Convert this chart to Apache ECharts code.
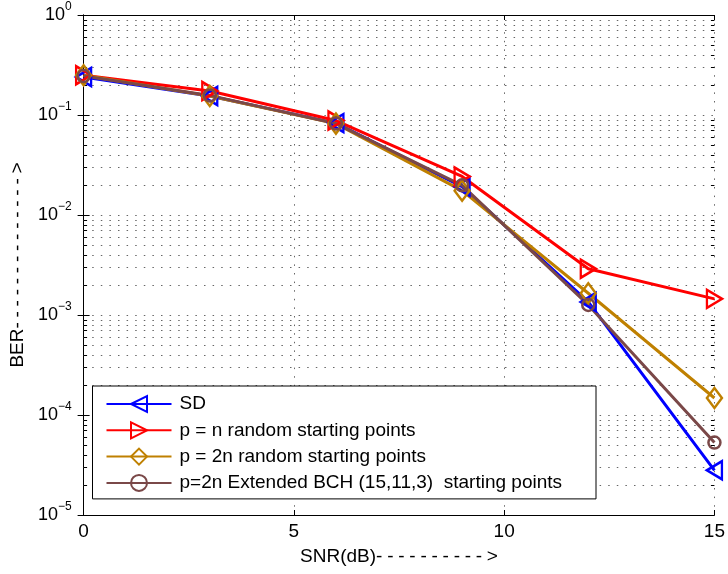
<!DOCTYPE html>
<html>
<head>
<meta charset="utf-8">
<script src="https://cdn.jsdelivr.net/npm/echarts@6/dist/echarts.min.js"></script>
<style>
  html, body { margin: 0; padding: 0; background: #fff; }
  #chart { width: 728px; height: 574px; }
</style>
</head>
<body>
<div id="chart"></div>
<script>
// SNR points (dB)
const snr = [0, 3, 6, 9, 12, 15];

// BER curves
const berSD        = [0.24, 0.155, 0.083, 0.0192, 0.00135, 0.000028];
const berRandN     = [0.25, 0.174, 0.088, 0.0243, 0.0029, 0.00145];
const berRand2N    = [0.25, 0.155, 0.082, 0.0175, 0.00165, 0.000148];
const berBCH       = [0.245, 0.157, 0.082, 0.0198, 0.00126, 0.000053];

const seriesNames = [
  'SD',
  'p = n random starting points',
  'p = 2n random starting points',
  'p=2n Extended BCH (15,11,3)  starting points'
];

// log-scale minor grid values (2..9 per decade)
const minorValues = [];
for (let k = -5; k <= -1; k++) {
  for (let m = 2; m <= 9; m++) minorValues.push(m * Math.pow(10, k));
}

const xMin = 0, xMax = 15;
const FONT = 'Liberation Sans';
const DOTS = [1.5, 7.1];
const GRID_COLOR = '#666';

function dashes(n) {
  let s = '';
  for (let i = 0; i < n; i++) s += '-\u2005';
  return s;
}

function pairs(ys) { return snr.map((x, i) => [x, ys[i]]); }

function lineSeries(name, ys, color, symbol, size, rotate) {
  return {
    type: 'line',
    name: name,
    data: pairs(ys),
    symbol: symbol,
    symbolSize: size,
    symbolRotate: rotate || 0,
    showAllSymbol: true,
    lineStyle: { color: color, width: 3 },
    itemStyle: { color: 'rgba(255,255,255,0)', borderColor: color, borderWidth: 2.5 },
    emphasis: { disabled: true },
    animation: false,
    z: 3
  };
}

const chart = echarts.init(document.getElementById('chart'), null, { renderer: 'canvas' });

const supLabel = {
  fontFamily: FONT,
  color: '#000',
  margin: 12,
  formatter: function (v) {
    const e = Math.round(Math.log10(v));
    return '{b|10}{s|' + (e < 0 ? '\u2212' + (-e) : e) + '}';
  },
  rich: {
    b: { fontFamily: FONT, fontSize: 18, lineHeight: 28, color: '#000' },
    s: { fontFamily: FONT, fontSize: 12, lineHeight: 12, verticalAlign: 'top', color: '#000' }
  }
};

chart.setOption({
  backgroundColor: '#fff',
  animation: false,
  grid: { left: 82.5, right: 13, top: 15, bottom: 59 },
  xAxis: [{
    type: 'value',
    min: xMin, max: xMax, interval: 5,
    position: 'bottom',
    axisLine: { lineStyle: { color: '#000', width: 1 } },
    axisTick: { inside: true, length: 5, lineStyle: { color: '#000' } },
    axisLabel: { fontFamily: FONT, fontSize: 19, color: '#000', margin: 7 },
    splitLine: { show: true, lineStyle: { color: GRID_COLOR, width: 1, type: DOTS } },
    name: 'SNR(dB)' + dashes(10) + '>',
    nameLocation: 'middle',
    nameGap: 32,
    nameTextStyle: { fontFamily: FONT, fontSize: 19, color: '#000' }
  }, {
    type: 'value',
    min: xMin, max: xMax, interval: 5,
    position: 'top',
    axisLine: { lineStyle: { color: '#000', width: 1 } },
    axisTick: { inside: true, length: 5, lineStyle: { color: '#000' } },
    axisLabel: { show: false },
    splitLine: { show: false }
  }],
  yAxis: [{
    type: 'log',
    logBase: 10,
    min: 1e-5, max: 1,
    position: 'left',
    axisLine: { show: true, lineStyle: { color: '#000', width: 1 } },
    axisTick: { show: true, inside: true, length: 6, lineStyle: { color: '#000' } },
    axisLabel: supLabel,
    splitLine: { show: true, lineStyle: { color: GRID_COLOR, width: 1, type: DOTS } },
    name: 'BER' + dashes(14) + '>',
    nameLocation: 'middle',
    nameGap: 50,
    nameRotate: 90,
    nameTextStyle: { fontFamily: FONT, fontSize: 19, color: '#000' }
  }, {
    type: 'log',
    logBase: 10,
    min: 1e-5, max: 1,
    position: 'right',
    axisLine: { show: true, lineStyle: { color: '#000', width: 1 } },
    axisTick: { show: true, inside: true, length: 6, lineStyle: { color: '#000' } },
    axisLabel: { show: false },
    splitLine: { show: false }
  }],
  legend: {
    orient: 'vertical',
    left: 92.5,
    top: 386,
    data: seriesNames,
    itemWidth: 65,
    itemHeight: 20,
    itemGap: 6.3,
    padding: [8, 34, 6, 13],
    backgroundColor: '#fff',
    borderColor: '#000',
    borderWidth: 1,
    borderRadius: 0,
    selectedMode: false,
    textStyle: { fontFamily: FONT, fontSize: 19, color: '#000', lineHeight: 20, padding: [0, 0, 0, 3] },
    z: 10
  },
  series: [
    {
      // minor log grid with edge ticks
      type: 'custom',
      name: 'minor-grid',
      silent: true,
      data: minorValues.map(v => [xMin, v]),
      encode: { x: 0, y: 1 },
      z: 1,
      renderItem: function (params, api) {
        const v = api.value(1);
        const p0 = api.coord([xMin, v]);
        const p1 = api.coord([xMax, v]);
        const y = Math.round(p0[1]) + 0.5;
        return {
          type: 'group',
          children: [
            { type: 'line', shape: { x1: p0[0], y1: y, x2: p1[0], y2: y },
              style: { stroke: GRID_COLOR, lineWidth: 1, lineDash: DOTS } },
            { type: 'line', shape: { x1: p0[0], y1: y, x2: p0[0] + 3.5, y2: y },
              style: { stroke: '#000', lineWidth: 1 } },
            { type: 'line', shape: { x1: p1[0] - 3.5, y1: y, x2: p1[0], y2: y },
              style: { stroke: '#000', lineWidth: 1 } }
          ]
        };
      }
    },
    lineSeries(seriesNames[0], berSD, '#0000ff', 'triangle', [18, 15], 90),
    lineSeries(seriesNames[1], berRandN, '#ff0000', 'triangle', [18, 15], -90),
    lineSeries(seriesNames[2], berRand2N, '#bf8000', 'diamond', [15, 20], 0),
    lineSeries(seriesNames[3], berBCH, '#7a4848', 'circle', 12, 0)
  ]
});
</script>
</body>
</html>
